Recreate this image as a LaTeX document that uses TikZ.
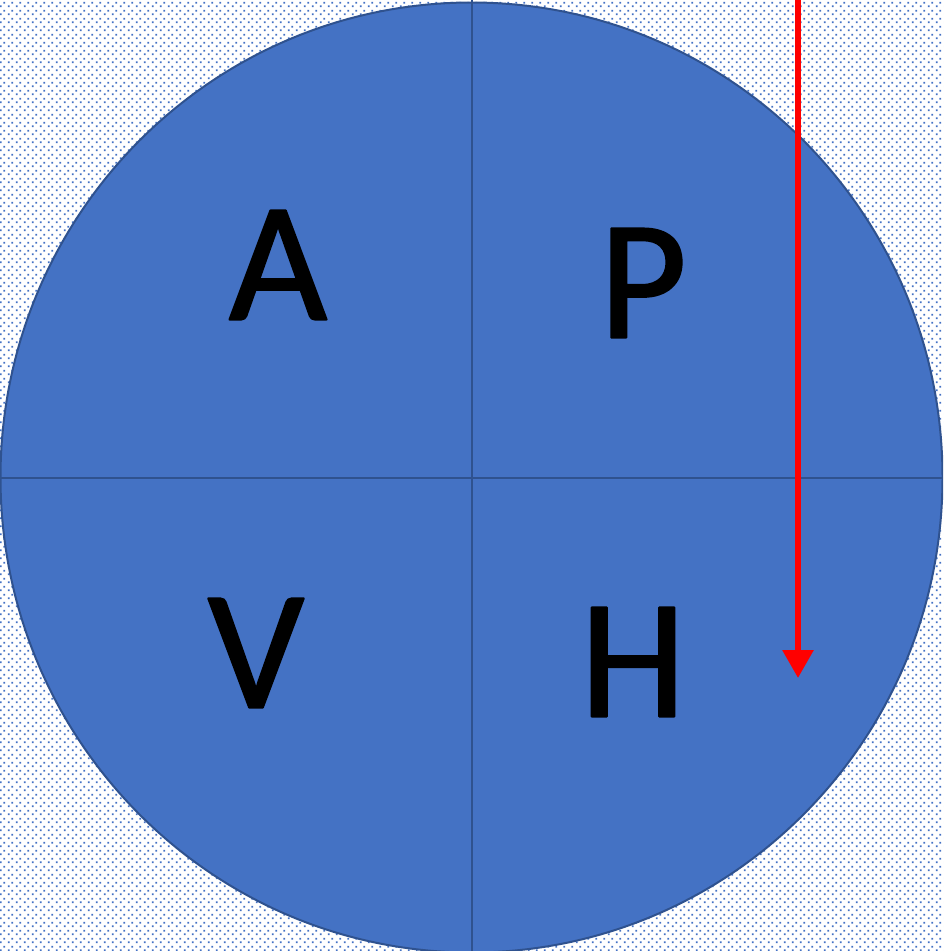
\documentclass[tikz,border=0pt]{standalone}
\usepackage{fontspec}
\setmainfont{Carlito}
\newfontfamily\quadfont[FakeBold=1.2]{Carlito}
\usetikzlibrary{patterns,arrows.meta}
\definecolor{quadblue}{HTML}{4472C4}
\definecolor{edgeblue}{HTML}{2F528F}
\pgfdeclarepatternformonly{bgdots}{\pgfqpoint{0pt}{0pt}}{\pgfqpoint{8pt}{8pt}}{\pgfqpoint{8pt}{8pt}}{%
  \pgfpathrectangle{\pgfqpoint{1pt}{1pt}}{\pgfqpoint{2pt}{2pt}}%
  \pgfpathrectangle{\pgfqpoint{5pt}{5pt}}{\pgfqpoint{2pt}{2pt}}%
  \pgfusepath{fill}}
\tikzset{
  quadlabel/.style={font=\quadfont\fontsize{170}{170}\selectfont,text=black,inner sep=0pt},
  divider/.style={draw=edgeblue,line width=2.5pt}
}
\begin{document}
\begin{tikzpicture}[x=1pt,y=-1pt,line cap=round,line join=round,>=latex]
  \useasboundingbox (0,0) rectangle (943,951);
  % dotted background
  \fill[pattern=bgdots,pattern color=quadblue] (0,0) rectangle (943,951);
  % disc and quadrants
  \begin{scope}
    \clip (0,0) rectangle (943,951);
    \filldraw[fill=quadblue,draw=edgeblue,line width=2pt] (471.5,477.5) ellipse [x radius=471,y radius=475];
    \draw[divider,line cap=butt] (472,0) -- (472,951);
    \draw[divider,line cap=butt] (0,478) -- (943,478);
  \end{scope}
  \node[quadlabel] (qa) at (278,265) {A};
  \node[quadlabel] (qp) at (643,283) {P};
  \node[quadlabel] (qv) at (256,653) {V};
  \node[quadlabel] (qh) at (633,662) {H};
  % red arrow
  \coordinate (top) at (798,-2);
  \coordinate (tip) at (798,678);
  \draw[red,line width=6pt,line cap=butt,-{Triangle[length=28pt,width=30pt]}] (top) -- (tip);
\end{tikzpicture}
\end{document}
